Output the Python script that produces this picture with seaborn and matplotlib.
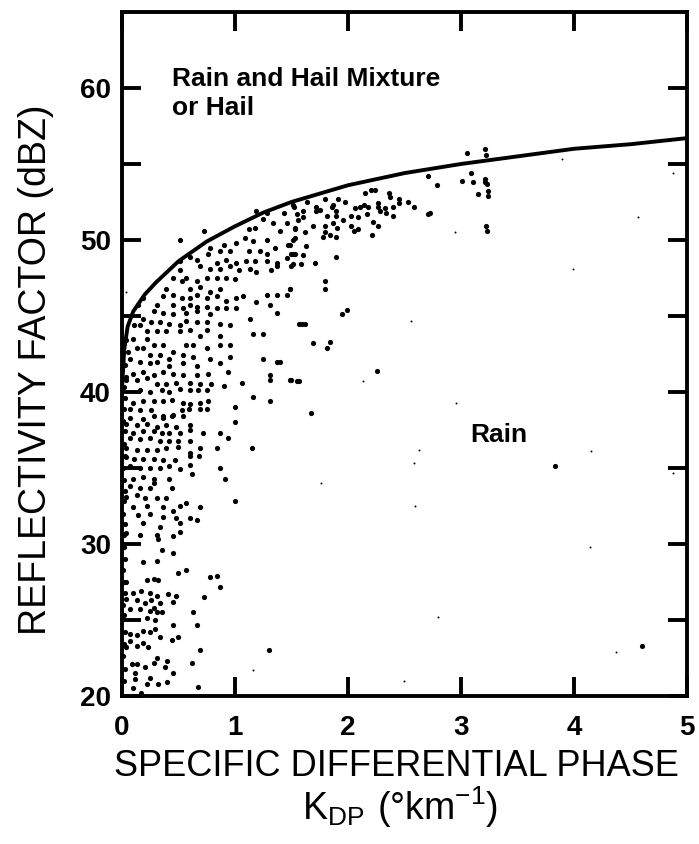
import pandas as pd
import matplotlib
matplotlib.use("Agg")
import matplotlib.pyplot as plt
import seaborn as sns

# boundary curve between "Rain" and "Rain and Hail Mixture or Hail"
curve_kdp = [0.0, 0.02, 0.05, 0.1, 0.2, 0.3, 0.5, 0.75, 1.0, 1.25, 1.5, 2.0, 2.5, 3.0, 3.5, 4.0, 4.5, 5.0]
curve_z = [40.2, 42.8, 44.3, 45.3, 46.4, 47.2, 48.6, 49.9, 50.9, 51.8, 52.5, 53.6, 54.4, 55.0, 55.5, 56.0, 56.3, 56.7]

# observations (Kdp deg/km, Z dBZ), grouped by where they sit on the plot
pts_upper_left = [
    (1.51, 52.3), (1.43, 51.8), (1.28, 51.8), (1.19, 51.9), (1.25, 51.4), (1.34, 51.1), (1.46, 51.1),
    (1.53, 50.7), (1.40, 50.6), (1.18, 50.8), (1.12, 50.7), (1.28, 50.0), (1.16, 49.9), (1.09, 50.1),
    (1.51, 50.0), (1.47, 49.7), (1.01, 49.8), (0.90, 49.7), (0.87, 49.3), (0.78, 49.5), (0.76, 49.1),
    (0.96, 49.3), (1.12, 49.3), (1.22, 49.3), (1.28, 49.1), (1.35, 49.5), (1.51, 49.1), (1.46, 48.8),
    (1.51, 48.4), (1.37, 48.5), (1.28, 48.6), (1.18, 48.6), (1.10, 48.6), (1.01, 48.5), (0.92, 48.7),
    (0.84, 48.5), (0.87, 48.1), (0.96, 48.3), (1.04, 48.0), (1.13, 48.1), (1.19, 47.9), (1.32, 48.0),
    (1.37, 48.3), (0.78, 48.1), (0.69, 48.3), (0.66, 48.7), (0.60, 48.9), (0.51, 48.6), (0.51, 48.0),
    (0.57, 47.5), (0.66, 47.3), (0.75, 47.5), (0.84, 47.5), (0.92, 47.5), (1.00, 47.4), (0.87, 46.8),
    (0.78, 46.6), (0.69, 46.9), (0.60, 46.8), (0.53, 47.3), (0.45, 47.5), (0.39, 46.8), (0.45, 46.4),
    (0.53, 46.2), (0.60, 46.2), (0.66, 46.4), (0.75, 46.2), (0.84, 46.3), (0.92, 46.0), (1.01, 46.2),
    (1.07, 46.3), (1.19, 45.9), (1.28, 46.4), (1.37, 46.4), (1.46, 46.4), (1.49, 46.8), (1.31, 45.7),
    (1.37, 45.2), (1.01, 45.5), (0.92, 45.5), (0.84, 45.5), (0.75, 45.6), (0.66, 45.6), (0.60, 45.7),
    (0.54, 45.5), (0.45, 45.7), (0.36, 46.3), (0.31, 45.7), (0.28, 45.3), (0.36, 45.2), (0.45, 45.1),
    (0.57, 45.2), (0.66, 45.3), (0.78, 45.1), (0.87, 44.5), (0.96, 44.4), (0.75, 44.6), (0.66, 44.6),
    (0.57, 44.7), (0.51, 44.4), (0.42, 44.5), (0.34, 44.6), (0.26, 44.6), (0.19, 44.8), (0.16, 44.4),
    (0.22, 44.0), (0.31, 44.0), (0.39, 44.0), (0.51, 44.0), (0.60, 44.1), (0.69, 43.7), (0.75, 44.1),
    (0.87, 43.7), (1.16, 43.8), (1.25, 43.8), (1.57, 44.5), (1.13, 44.8), (0.22, 43.5), (0.28, 43.1),
    (0.36, 43.1), (0.45, 42.6), (0.57, 43.1), (0.63, 43.1), (0.75, 42.9), (0.87, 43.1), (0.96, 43.1),
    (0.19, 42.9), (0.25, 42.4), (0.34, 42.4), (0.42, 42.2), (0.54, 42.4), (0.63, 42.3), (0.78, 42.2),
    (0.96, 42.3), (1.25, 42.2), (1.37, 42.0), (0.16, 42.0), (0.25, 41.9), (0.31, 42.0), (0.42, 41.7),
    (0.54, 41.9), (0.66, 41.7), (0.87, 41.9), (0.51, 50.0), (0.73, 50.6), (0.19, 46.2), (0.14, 45.7),
    (0.11, 44.4), (0.10, 43.5), (0.13, 42.9), (0.07, 42.2),
]
pts_middle = [
    (0.10, 41.2), (0.19, 41.3), (0.28, 41.1), (0.36, 41.3), (0.45, 41.2), (0.54, 41.1), (0.66, 41.1),
    (0.76, 41.2), (0.94, 41.3), (1.31, 41.1), (1.31, 40.8), (1.49, 40.8), (1.55, 40.7),
    (0.04, 40.8), (0.13, 40.8), (0.22, 40.9), (0.31, 40.5), (0.39, 40.5), (0.48, 40.6), (0.60, 40.6),
    (0.69, 40.5), (0.79, 40.5), (0.90, 40.4), (1.06, 40.6),
    (0.16, 40.1), (0.25, 40.0), (0.35, 40.1), (0.42, 40.0), (0.51, 40.2), (0.60, 40.1),
    (0.67, 40.1), (0.75, 40.1), (1.16, 39.7), (1.31, 39.4),
    (0.10, 39.3), (0.19, 39.4), (0.28, 39.4), (0.36, 39.4), (0.44, 39.5), (0.54, 39.3), (0.60, 39.2),
    (0.69, 39.3), (0.76, 39.4), (1.00, 39.0),
    (0.07, 38.9), (0.16, 38.8), (0.26, 38.8), (0.36, 38.4), (0.45, 38.5), (0.53, 38.8), (0.59, 38.9),
    (0.69, 38.9), (0.75, 38.9),
    (0.07, 38.3), (0.19, 38.2), (0.28, 38.4), (0.36, 38.3), (0.44, 38.4), (0.54, 38.4),
    (0.04, 37.9), (0.13, 37.8), (0.22, 37.9), (0.31, 37.7), (0.39, 37.8), (0.48, 37.7), (0.60, 37.8),
    (1.00, 38.0),
    (0.10, 37.3), (0.19, 37.4), (0.28, 37.4), (0.35, 37.3), (0.42, 37.3), (0.51, 37.3), (0.60, 37.5),
    (0.72, 37.3), (0.87, 37.3), (0.94, 37.0),
    (0.07, 37.0), (0.16, 36.9), (0.25, 37.0), (0.34, 36.8), (0.42, 36.8), (0.50, 36.8), (0.60, 36.8),
    (0.04, 36.3), (0.13, 36.2), (0.22, 36.2), (0.31, 36.2), (0.39, 36.3), (0.50, 36.4), (0.60, 36.0),
    (0.69, 36.3), (0.84, 36.3), (1.15, 36.3),
    (0.04, 35.7), (0.11, 35.6), (0.19, 35.6), (0.28, 35.6), (0.36, 35.5), (0.47, 35.5), (0.60, 35.8),
    (0.68, 35.8),
    (0.07, 35.1), (0.16, 35.0), (0.25, 35.0), (0.34, 35.0), (0.42, 35.1), (0.51, 34.9), (0.60, 35.2),
    (0.87, 35.0),
    (0.10, 34.3), (0.19, 34.4), (0.28, 34.3), (0.42, 34.3), (0.62, 34.6), (0.91, 34.3),
    (0.07, 33.8), (0.16, 33.7), (0.25, 33.7), (0.44, 33.7), (0.28, 34.0),
    (0.04, 33.1), (0.13, 33.2), (0.20, 33.0), (0.31, 33.0), (0.39, 33.0), (0.57, 32.7), (1.00, 32.8),
    (0.10, 32.4), (0.22, 32.5), (0.36, 32.4), (0.45, 32.2), (0.69, 32.4), (0.51, 32.5),
    (0.14, 31.9), (0.25, 32.0), (0.36, 31.8), (0.48, 31.7), (0.60, 31.7), (0.66, 31.6),
    (0.19, 31.4), (0.34, 31.1), (0.51, 31.4),
    (0.16, 30.6), (0.31, 30.6), (0.45, 30.5), (0.51, 30.8), (0.04, 30.7),
]
pts_low = [
    (0.32, 30.3), (0.35, 29.6), (0.45, 29.4), (0.19, 28.8), (0.31, 28.9), (0.50, 28.1), (0.57, 28.3),
    (0.78, 27.8), (0.84, 27.9), (0.87, 27.2), (0.04, 27.5), (0.22, 27.6), (0.28, 27.7), (0.32, 27.6),
    (0.10, 26.8), (0.17, 26.9), (0.25, 26.8), (0.31, 26.6), (0.41, 26.7), (0.48, 26.6), (0.73, 26.5),
    (0.04, 26.4), (0.13, 26.3), (0.20, 26.1), (0.26, 26.3), (0.34, 26.1), (0.45, 26.2), (0.07, 25.7),
    (0.16, 25.7), (0.25, 25.6), (0.31, 25.5), (0.35, 25.5), (0.28, 25.8), (0.22, 25.1), (0.29, 25.0),
    (0.45, 24.7), (0.63, 25.5), (0.66, 24.7), (0.07, 24.1), (0.13, 24.0), (0.19, 24.3), (0.25, 24.2),
    (0.29, 24.4), (0.34, 23.9), (0.50, 23.9), (0.44, 23.7), (0.07, 23.6), (0.13, 23.3), (0.19, 23.5),
    (0.23, 23.2), (0.04, 23.2), (0.69, 23.0), (1.30, 23.0), (0.085, 22.1), (0.13, 22.1), (0.20, 21.9),
    (0.28, 22.2), (0.31, 22.5), (0.40, 22.3), (0.38, 21.9), (0.45, 21.5), (0.62, 22.2), (0.115, 21.5),
    (0.115, 21.1), (0.25, 21.2), (0.22, 20.8), (0.32, 20.8), (0.40, 20.9), (0.67, 20.6), (0.10, 20.5),
    (0.17, 20.2),
]
pts_upper_right = [
    (3.05, 55.7), (3.21, 56.0), (2.71, 54.2), (2.79, 53.6), (3.01, 53.9), (3.09, 54.4), (3.11, 53.8),
    (3.21, 54.0), (3.21, 53.8), (3.15, 53.0), (3.24, 53.2), (3.22, 50.9),
    (2.20, 53.3), (2.15, 53.1), (2.24, 53.3), (2.36, 53.1), (2.37, 52.8), (2.45, 52.7), (2.45, 52.4),
    (2.53, 52.5), (2.58, 52.2), (2.27, 52.4), (2.27, 52.2), (2.33, 52.1), (2.40, 52.2), (2.28, 51.9),
    (2.34, 51.8), (2.40, 51.6), (2.73, 51.8), (2.71, 51.7),
    (1.64, 52.5), (1.80, 52.7), (1.91, 52.7), (1.97, 52.5), (1.87, 52.3), (1.86, 52.2), (1.52, 52.2),
    (1.72, 52.2), (1.75, 52.0), (1.60, 51.9), (1.72, 51.9), (1.81, 51.6), (1.89, 51.9), (1.89, 51.6),
    (2.03, 51.6), (2.06, 52.1), (2.11, 52.2), (2.14, 52.3), (2.18, 52.2), (2.17, 51.7), (2.09, 51.5),
    (2.22, 51.2), (2.27, 50.9), (2.03, 50.9), (2.05, 50.6), (2.09, 50.7), (2.21, 50.3), (1.56, 51.3),
    (1.60, 51.5), (1.55, 51.7), (1.69, 50.9), (1.80, 50.9), (1.87, 51.1), (1.96, 51.3), (1.90, 50.8),
    (1.80, 50.5), (1.84, 50.3), (1.89, 50.2), (1.78, 50.2), (1.53, 50.8), (1.62, 50.5), (1.63, 49.6),
    (1.53, 50.1), (1.49, 49.7), (1.50, 49.1), (1.53, 49.1), (1.60, 49.0), (1.89, 48.9), (1.71, 48.5),
    (1.58, 48.4), (1.50, 48.3), (1.80, 47.3), (1.80, 46.8), (1.49, 46.8), (1.99, 45.4), (1.95, 45.1),
    (1.59, 44.5), (1.62, 44.5),
]
pts_sparse = [
    (1.69, 43.2), (1.84, 43.3), (1.81, 42.9), (2.26, 41.4), (1.50, 40.8), (1.57, 40.7), (1.67, 38.6),
    (1.40, 42.0), (3.22, 55.6), (3.23, 53.7), (3.24, 52.9), (3.23, 50.6), (3.83, 35.1), (4.60, 23.3),
]
pts_axis = [
    (0.02, 21.0), (0.03, 21.8), (0.01, 22.6), (0.02, 23.4), (0.03, 24.2), (0.02, 25.3), (0.01, 26.0),
    (0.03, 26.8), (0.02, 27.5), (0.01, 28.3), (0.03, 29.0), (0.02, 29.8), (0.02, 30.6), (0.03, 31.3),
    (0.01, 32.0), (0.02, 32.8), (0.03, 33.5), (0.02, 34.2), (0.01, 35.0), (0.03, 35.8), (0.02, 36.6),
    (0.03, 37.4), (0.01, 38.1), (0.02, 38.9), (0.03, 39.6), (0.02, 40.3), (0.04, 41.0), (0.03, 41.8),
    (0.05, 42.6), (0.04, 43.4),
]
pts_faint = [
    (2.13, 40.7), (2.96, 39.3), (2.63, 36.2), (2.58, 35.3), (1.76, 34.0), (2.59, 32.5), (2.80, 25.2),
    (2.50, 21.0), (3.89, 55.3), (4.57, 51.5), (3.99, 48.1), (4.15, 36.1), (4.14, 29.8), (4.37, 22.9),
    (4.88, 34.7), (4.88, 54.4), (2.56, 44.7), (2.95, 50.5), (1.16, 21.7), (0.04, 46.6),
]

dots = pd.DataFrame(pts_upper_left + pts_middle + pts_low + pts_upper_right + pts_sparse + pts_axis,
                    columns=["kdp", "z"])
faint = pd.DataFrame(pts_faint, columns=["kdp", "z"])
curve = pd.DataFrame({"kdp": curve_kdp, "z": curve_z})

sns.set_style("ticks")
plt.rcParams["font.family"] = ["Liberation Sans", "DejaVu Sans"]
plt.rcParams["text.color"] = "black"
plt.rcParams["xtick.color"] = "black"
plt.rcParams["ytick.color"] = "black"
plt.rcParams["axes.edgecolor"] = "black"

fig = plt.figure(figsize=(6.99, 8.44), dpi=100)
ax = fig.add_axes([0.1745, 0.1754, 0.8083, 0.8104])

sns.scatterplot(data=dots, x="kdp", y="z", ax=ax, color="black", s=14, marker="o",
                linewidth=0, legend=False, clip_on=False)
sns.scatterplot(data=faint, x="kdp", y="z", ax=ax, color="black", s=2, marker="o",
                linewidth=0, legend=False)
sns.lineplot(data=curve, x="kdp", y="z", ax=ax, color="black", linewidth=2.8)

ax.set_xlim(0, 5)
ax.set_ylim(20, 65)
ax.set_xticks(range(6))
ax.set_yticks([20, 30, 40, 50, 60])
ax.set_yticks([25, 35, 45, 55], minor=True)
ax.tick_params(which="both", direction="in", length=14, width=2.8, top=True, right=True,
               color="black")
ax.tick_params(axis="x", labelsize=20, pad=14, labelcolor="black")
ax.tick_params(axis="y", labelsize=20, pad=8, labelcolor="black")
for lbl in ax.get_xticklabels() + ax.get_yticklabels():
    lbl.set_fontweight("bold")
for sp in ax.spines.values():
    sp.set_linewidth(2.8)
ax.set_xlabel("")
ax.set_ylabel("")

ax.text(0.44, 61.4, "Rain and Hail Mixture\nor Hail", ha="left", va="top",
        fontsize=19, fontweight="bold", linespacing=1.3)
ax.text(3.08, 36.7, "Rain", ha="left", va="baseline", fontsize=19, fontweight="bold")

fig.text(0.567, 0.0805, "SPECIFIC DIFFERENTIAL PHASE", ha="center", va="baseline", fontsize=26)
fig.text(0.572, 0.029, r"$\mathregular{K_{DP}\ (°km^{-1})}$", ha="center", va="baseline",
         fontsize=27)
fig.text(0.0515, 0.5616, "REFLECTIVITY FACTOR (dBZ)", rotation=90, ha="center", va="center",
         fontsize=27)

fig.savefig("out.png", dpi=100)
